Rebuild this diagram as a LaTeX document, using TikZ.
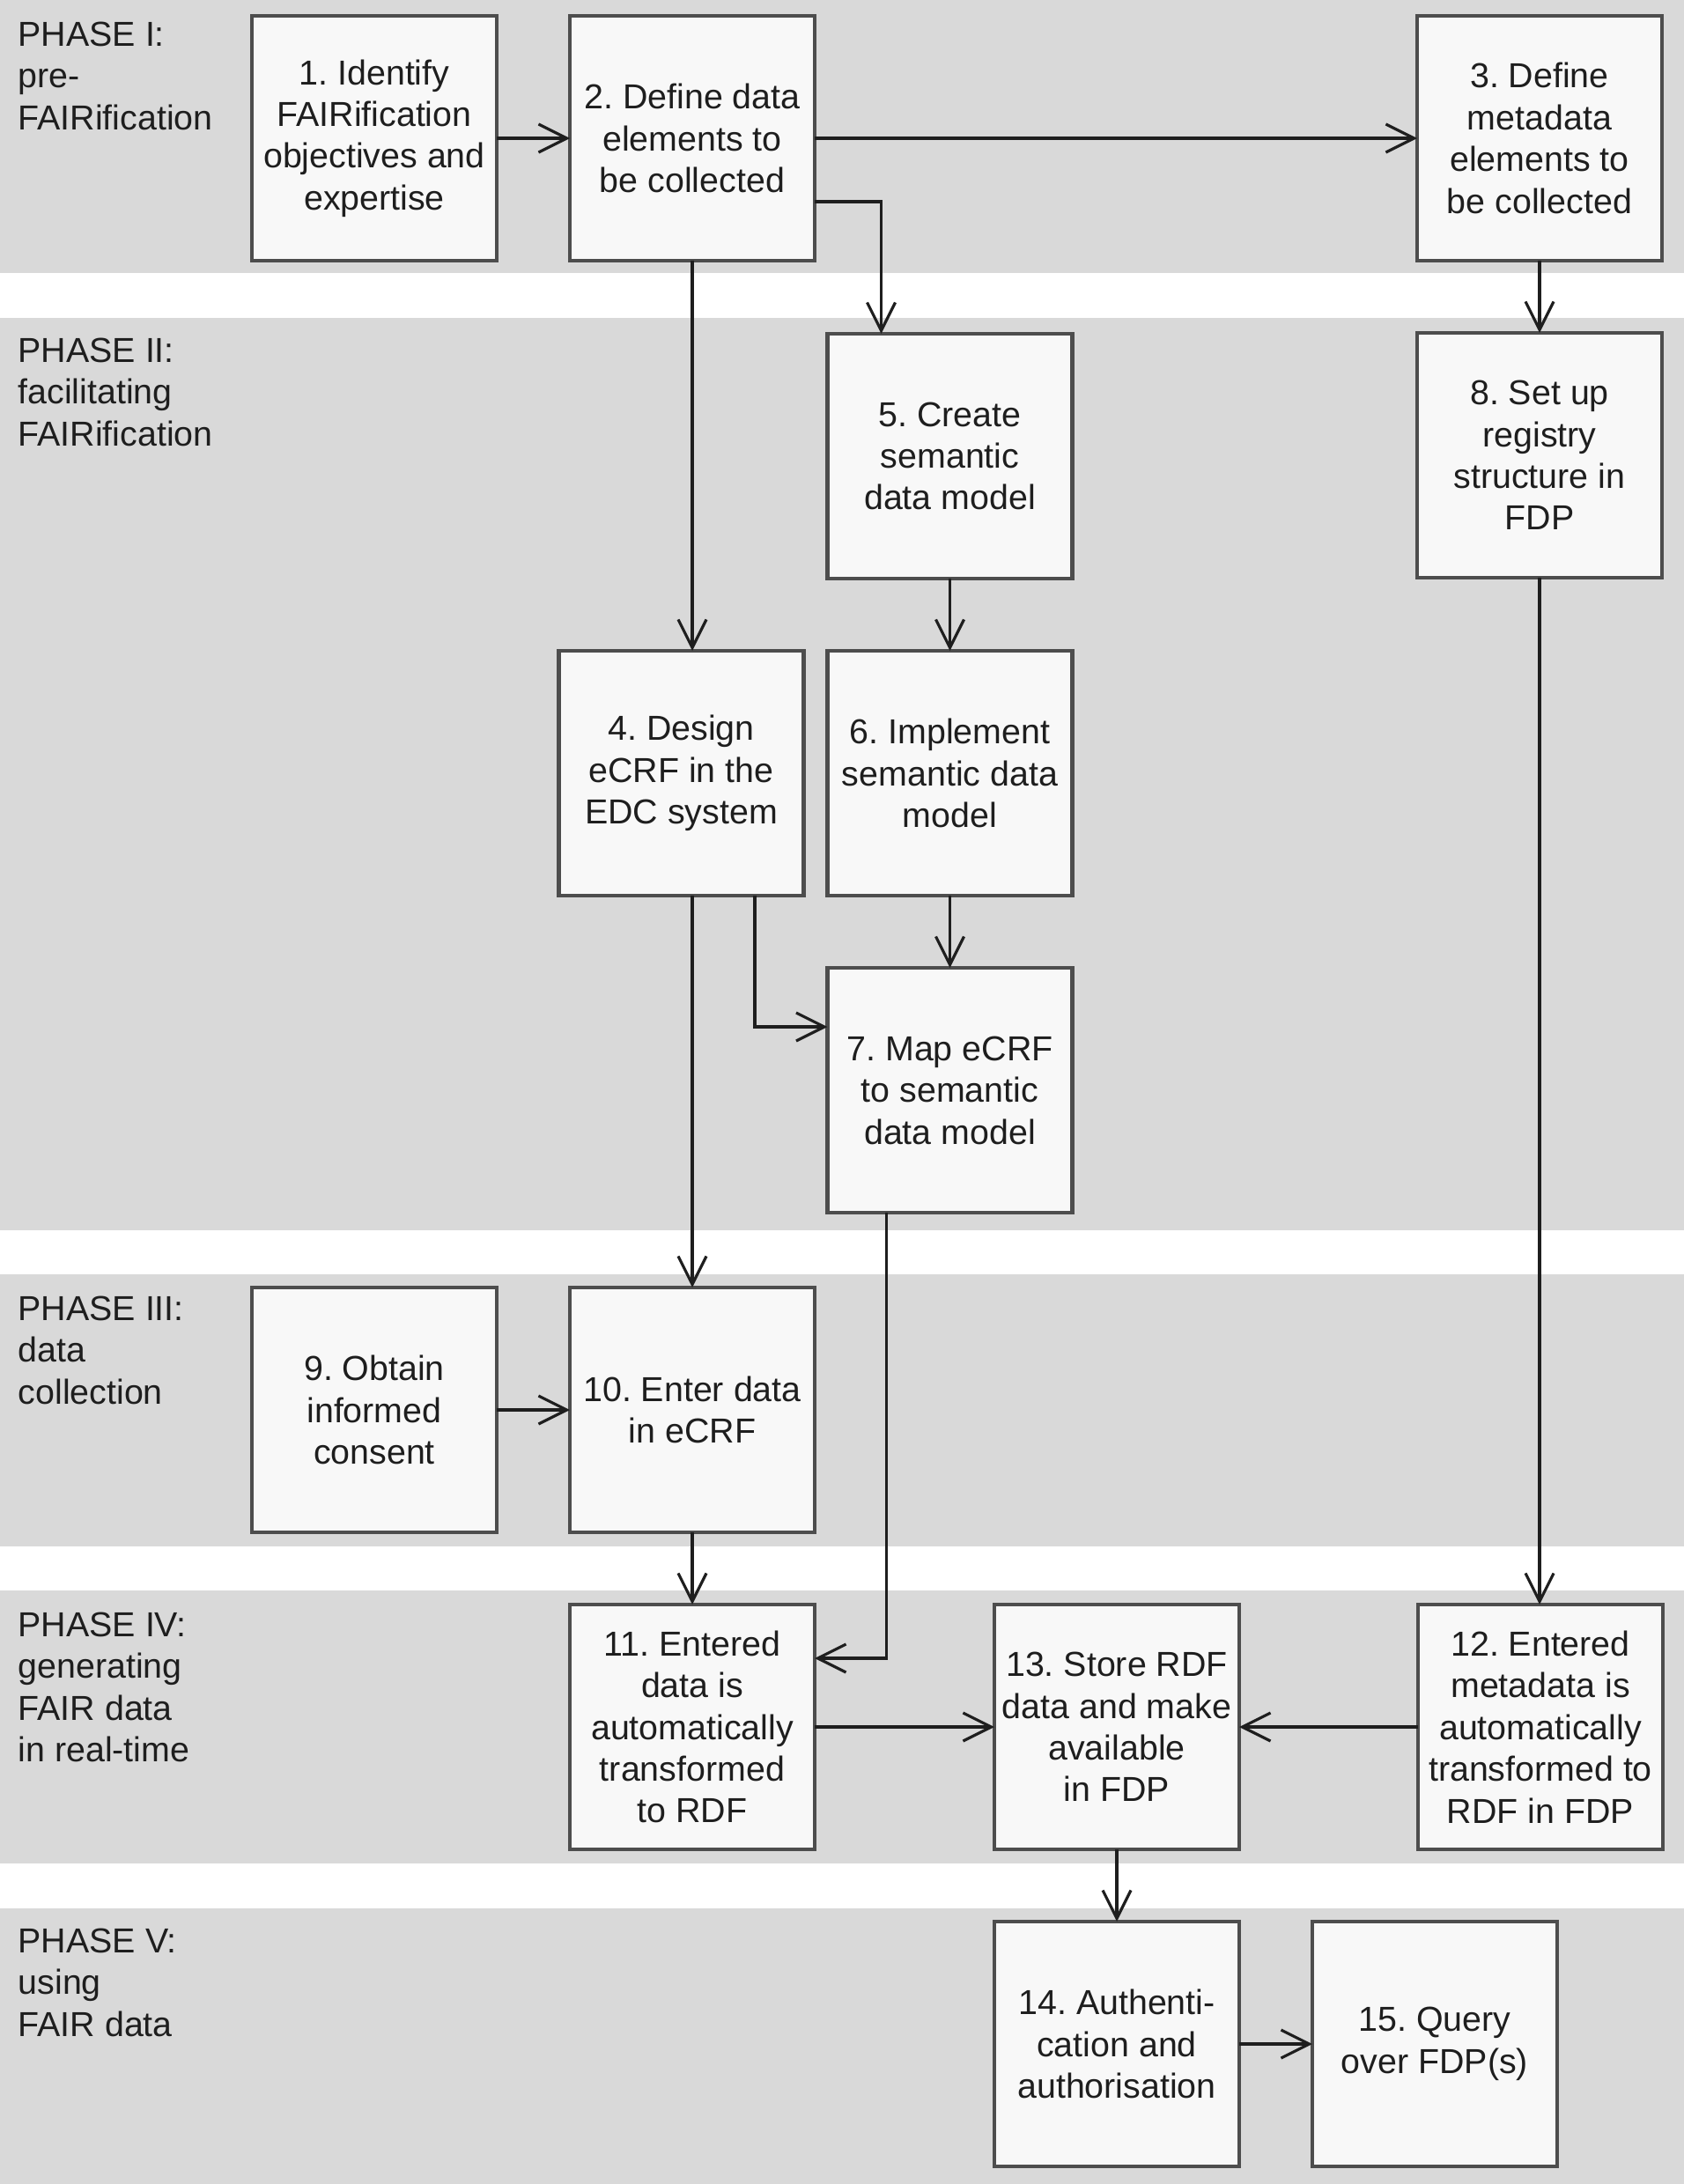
\documentclass[tikz,border=0pt]{standalone}
\usepackage{fontspec}
\setmainfont{Liberation Sans}
\usepackage{xcolor}
\usepackage{tikz}
\usetikzlibrary{arrows.meta,positioning}
\frenchspacing
\definecolor{bandgray}{HTML}{D9D9D9}
\definecolor{boxfill}{HTML}{F8F8F8}
\definecolor{boxline}{HTML}{4D4D4D}
\definecolor{inkdark}{HTML}{1E1E1E}
\tikzset{
  band/.style={fill=bandgray},
  stepbox/.style={draw=boxline, line width=1.4pt, fill=boxfill, align=center,
              minimum width=2.78cm, minimum height=2.78cm, inner sep=1pt, outer sep=0pt,
              text=inkdark, font=\fontsize{11.2}{13.5}\selectfont},
  phaselbl/.style={anchor=north west, align=left, inner sep=0pt,
              text=inkdark, font=\fontsize{11.2}{13.5}\selectfont},
  flow/.style={-{Straight Barb[length=3.2mm, width=3.2mm]}, line width=0.9pt, draw=inkdark},
}

\begin{document}
\begin{tikzpicture}[node distance=0.82cm and 0.83cm]
  \useasboundingbox (0,0) rectangle (19.12,-24.8);
  % phase bands
  \fill[band] (0,0) rectangle (19.12,-3.10);
  \fill[band] (0,-3.61) rectangle (19.12,-13.97);
  \fill[band] (0,-14.47) rectangle (19.12,-17.56);
  \fill[band] (0,-18.06) rectangle (19.12,-21.16);
  \fill[band] (0,-21.67) rectangle (19.12,-24.8);
  \node[phaselbl] (lblA) at (0.2,-0.24) {PHASE I:\\pre-\\FAIRification};
  \node[phaselbl] (lblB) at (0.2,-3.83) {PHASE II:\\facilitating\\FAIRification};
  \node[phaselbl] (lblC) at (0.2,-14.71) {PHASE III:\\data\\collection};
  \node[phaselbl] (lblD) at (0.2,-18.30) {PHASE IV:\\generating\\FAIR data\\in real-time};
  \node[phaselbl] (lblE) at (0.2,-21.89) {PHASE V:\\using\\FAIR data};
  % Phase I
  \node[stepbox] (n1) at (4.25,-1.57) {1. Identify\\FAIRification\\objectives and\\expertise};
  \node[stepbox, right=of n1] (n2) {2. Define data\\elements to\\be collected};
  \node[stepbox] (n3) at (17.48,-1.57) {3. Define\\metadata\\elements to\\be collected};
  % Phase II
  \node[stepbox] (n5) at (10.785,-5.18) {5. Create\\semantic\\data model};
  \node[stepbox, below=of n3] (n8) {8. Set up\\registry\\structure in\\FDP};
  \node[stepbox, below=of n5] (n6) {6. Implement\\semantic data\\model};
  \node[stepbox, left=0.27cm of n6] (n4) {4. Design\\eCRF in the\\EDC system};
  \node[stepbox, below=of n6] (n7) {7. Map eCRF\\to semantic\\data model};
  % Phase III
  \node[stepbox] (n9) at (4.25,-16.01) {9. Obtain\\informed\\consent};
  \node[stepbox, right=of n9] (n10) {10. Enter data\\in eCRF};
  % Phase IV
  \node[stepbox, below=of n10] (n11) {11. Entered\\data is\\automatically\\transformed\\to RDF};
  \node[stepbox, right=2.04cm of n11] (n13) {13. Store RDF\\data and make\\available\\in FDP};
  \node[stepbox, right=2.03cm of n13] (n12) {12. Entered\\metadata is\\automatically\\transformed to\\RDF in FDP};
  % Phase V
  \node[stepbox, below=of n13] (n14) {14. Authenti-\\cation and\\authorisation};
  \node[stepbox, right=of n14] (n15) {15. Query\\over FDP(s)};
  % connectors
  \draw[flow] (n1)--(n2); \draw[flow] (n2)--(n3);
  \draw[flow] ([yshift=-0.72cm]n2.east) -| ([xshift=-0.78cm]n5.north);
  \draw[flow] (n2.south)--(n2.south |- n4.north);
  \draw[flow] (n3)--(n8);
  \draw[flow] (n5)--(n6); \draw[flow] (n6)--(n7);
  \draw[flow] ([xshift=0.835cm]n4.south) |- ([yshift=0.72cm]n7.west);
  \draw[flow] (n4.south -| n10.north)--(n10.north);
  \draw[flow] ([xshift=-0.72cm]n7.south) |- ([yshift=0.78cm]n11.east);
  \draw[flow] (n8.south)--(n8.south |- n12.north);
  \draw[flow] (n9)--(n10); \draw[flow] (n10)--(n11);
  \draw[flow] (n11)--(n13); \draw[flow] (n12)--(n13);
  \draw[flow] (n13)--(n14); \draw[flow] (n14)--(n15);
\end{tikzpicture}
\end{document}
